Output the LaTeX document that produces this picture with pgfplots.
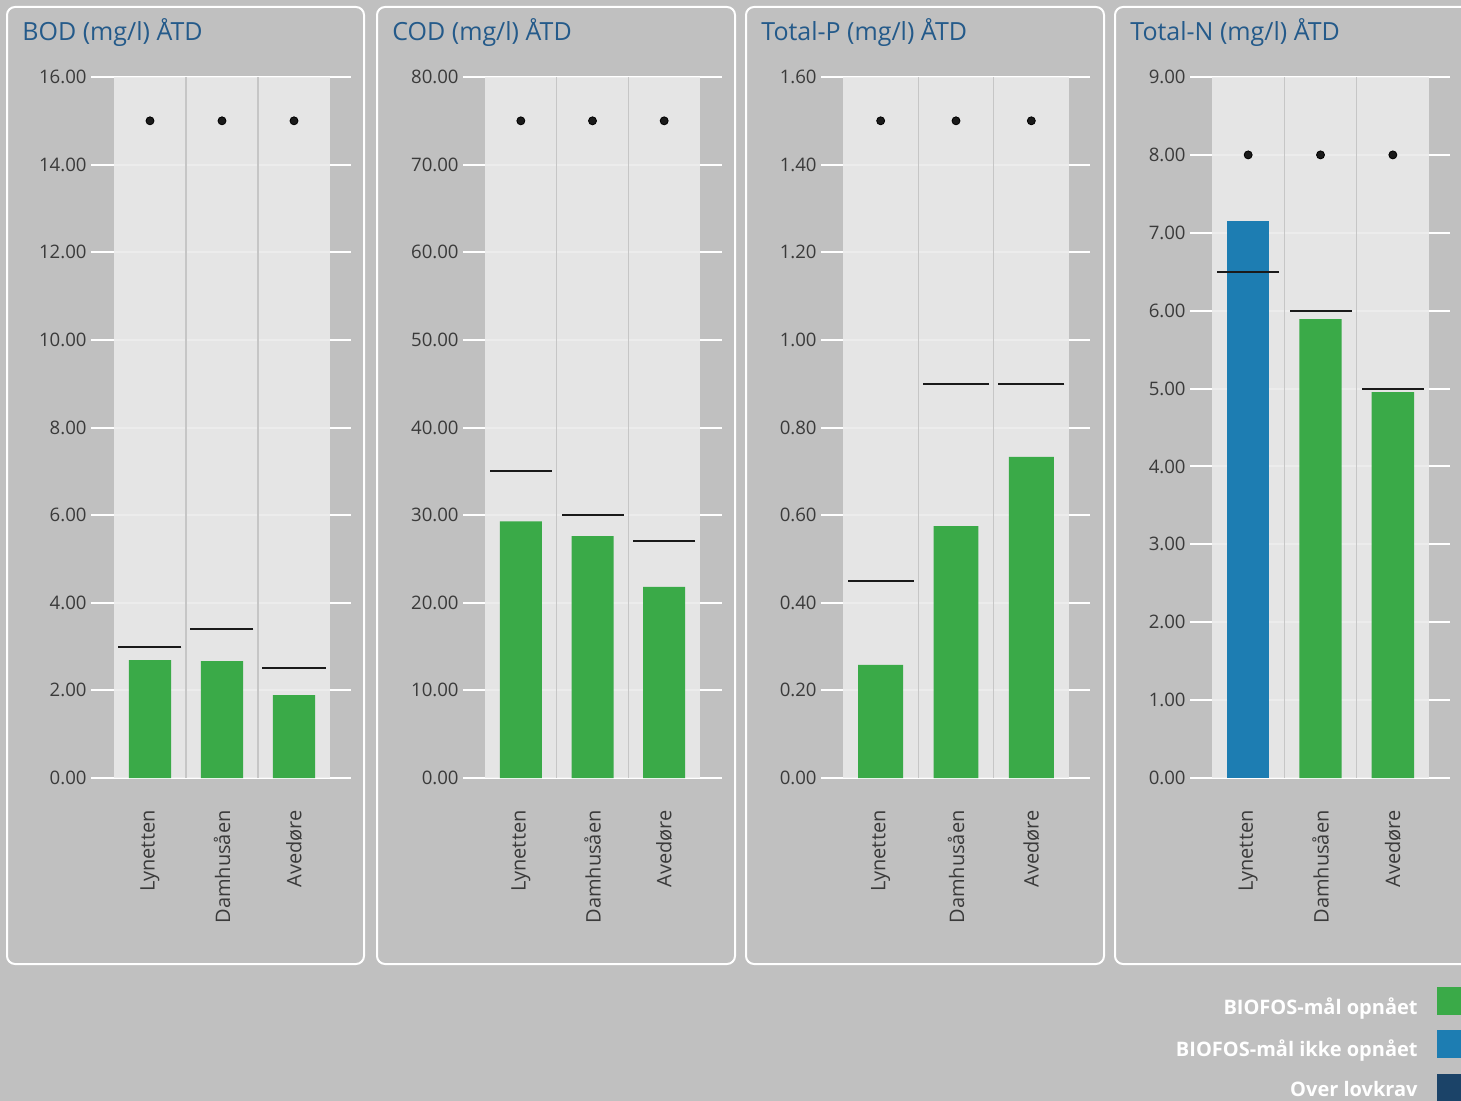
\documentclass[border=0pt]{standalone}
\usepackage{pgfplots}
\pgfplotsset{compat=1.18}
\usepackage{fontspec}
\setmainfont{Open Sans}
\usetikzlibrary{plotmarks}

\definecolor{bg}{HTML}{C0C0C0}
\definecolor{band}{HTML}{EAEAEA}
\definecolor{sep}{HTML}{C6C6C6}
\definecolor{okgreen}{HTML}{3AAA48}
\definecolor{missblue}{HTML}{1D7DB2}
\definecolor{overnavy}{HTML}{1B4368}
\definecolor{titleblue}{HTML}{245A8A}
\definecolor{ticktext}{HTML}{3A3A3A}
\definecolor{marker}{HTML}{1A1A1A}

% 1 px of the reference = 0.5pt
\pgfplotsset{
  panel/.style={
    scale only axis, anchor=south west,
    height=350.5pt, ymin=0,
    axis line style={draw=none},
    major tick length=0pt,
    ymajorgrids, grid style={white, line width=1pt},
    xtick={0,1,2}, xticklabels={Lynetten,Damhusåen,Avedøre},
    xticklabel style={rotate=90, anchor=east, inner sep=0pt,
      font=\fontsize{10pt}{12pt}\selectfont, text=ticktext},
    xticklabel shift=16pt,
    yticklabel style={anchor=east, inner sep=0pt, xshift=-2pt,
      font=\fontsize{9.3pt}{11pt}\selectfont, text=ticktext},
    /pgf/number format/fixed,
    /pgf/number format/fixed zerofill,
    /pgf/number format/precision=2,
    /pgf/number format/assume math mode=true,
  },
  bars/.style={ybar, bar shift=0pt, draw=none, fill=okgreen},
  goal/.style={only marks, mark=-, mark options={line width=1pt, draw=marker}},
  limit/.style={only marks, mark=*, mark size=2pt, mark options={fill=marker, draw=none}},
}

% light band behind the three categories (slightly see-through, so the
% white grid shows faintly), and the grey separators
\newcommand{\band}[1]{%
  \fill[band, fill opacity=0.9] (axis cs:-0.5,0) rectangle (axis cs:2.5,#1);
  \draw[sep, line width=0.8pt] (axis cs:0.5,0) -- (axis cs:0.5,#1)
    (axis cs:1.5,0) -- (axis cs:1.5,#1);}

\begin{document}
\begin{tikzpicture}
\begin{scope}[x=0.5pt, y=-0.5pt]
  \fill[bg] (0,0) rectangle (1461,1101);
  \draw[white, line width=1pt, rounded corners=4pt] (7,7) rectangle (364,964);
  \draw[white, line width=1pt, rounded corners=4pt] (377,7) rectangle (735,964);
  \draw[white, line width=1pt, rounded corners=4pt] (746,7) rectangle (1104,964);
  \draw[white, line width=1pt, rounded corners=4pt] (1115,7) rectangle (1490,964);
  \foreach \x/\t in {22/BOD, 392/COD, 761/Total-P, 1130/Total-N}
    \node[anchor=base west, inner sep=0pt, text=titleblue,
      font=\fontsize{12.5pt}{15pt}\selectfont] at (\x,41) {\t\ (mg/l) ÅTD};
\end{scope}

% BOD
\begin{axis}[panel, at={(45.5pt,-389pt)}, width=130pt,
  xmin=-0.8194, xmax=2.7917, ymax=16, ytick={0,2,4,6,8,10,12,14,16}]
  \band{16}
  \addplot[bars, bar width=0.585] coordinates {(0,2.69) (1,2.67) (2,1.89)};
  \addplot[goal, mark size=15.75pt] coordinates {(0,3.0) (1,3.4) (2,2.5)};
  \addplot[limit] coordinates {(0,15) (1,15) (2,15)};
\end{axis}

% COD
\begin{axis}[panel, at={(231.5pt,-389pt)}, width=129.5pt,
  xmin=-0.807, xmax=2.807, ymax=80, ytick={0,10,20,30,40,50,60,70,80}]
  \band{80}
  \addplot[bars, bar width=0.586] coordinates {(0,29.3) (1,27.6) (2,21.8)};
  \addplot[goal, mark size=15.5pt] coordinates {(0,35) (1,30) (2,27)};
  \addplot[limit] coordinates {(0,75) (1,75) (2,75)};
\end{axis}

% Total-P
\begin{axis}[panel, at={(410.5pt,-389pt)}, width=134.5pt,
  xmin=-0.792, xmax=2.779, ymax=1.6, ytick={0,0.2,0.4,0.6,0.8,1.0,1.2,1.4,1.6}]
  \band{1.6}
  \addplot[bars, bar width=0.597] coordinates {(0,0.258) (1,0.575) (2,0.733)};
  \addplot[goal, mark size=16.5pt] coordinates {(0,0.45) (1,0.90) (2,0.90)};
  \addplot[limit] coordinates {(0,1.5) (1,1.5) (2,1.5)};
\end{axis}

% Total-N
\begin{axis}[panel, at={(595pt,-389pt)}, width=130pt,
  xmin=-0.804, xmax=2.790, ymax=9, ytick={0,1,2,3,4,5,6,7,8,9}]
  \band{9}
  \addplot[bars, bar width=0.585, fill=missblue] coordinates {(0,7.15)};
  \addplot[bars, bar width=0.585] coordinates {(1,5.89) (2,4.955)};
  \addplot[goal, mark size=15.5pt] coordinates {(0,6.5) (1,6.0) (2,5.0)};
  \addplot[limit] coordinates {(0,8) (1,8) (2,8)};
\end{axis}

% legend
\begin{scope}[x=0.5pt, y=-0.5pt]
  \fill[okgreen] (1437,987) rectangle (1461,1015);
  \fill[missblue] (1437,1030) rectangle (1461,1058);
  \fill[overnavy] (1437,1074) rectangle (1461,1101);
  \foreach \y/\t in {1014/BIOFOS-mål opnået, 1056/BIOFOS-mål ikke opnået, 1096/Over lovkrav}
    \node[anchor=base east, inner sep=0pt, text=white,
      font=\bfseries\fontsize{10pt}{12pt}\selectfont] at (1418,\y) {\t};
  \pgfresetboundingbox
  \useasboundingbox (0,0) rectangle (1461,1101);
\end{scope}
\end{tikzpicture}
\end{document}
